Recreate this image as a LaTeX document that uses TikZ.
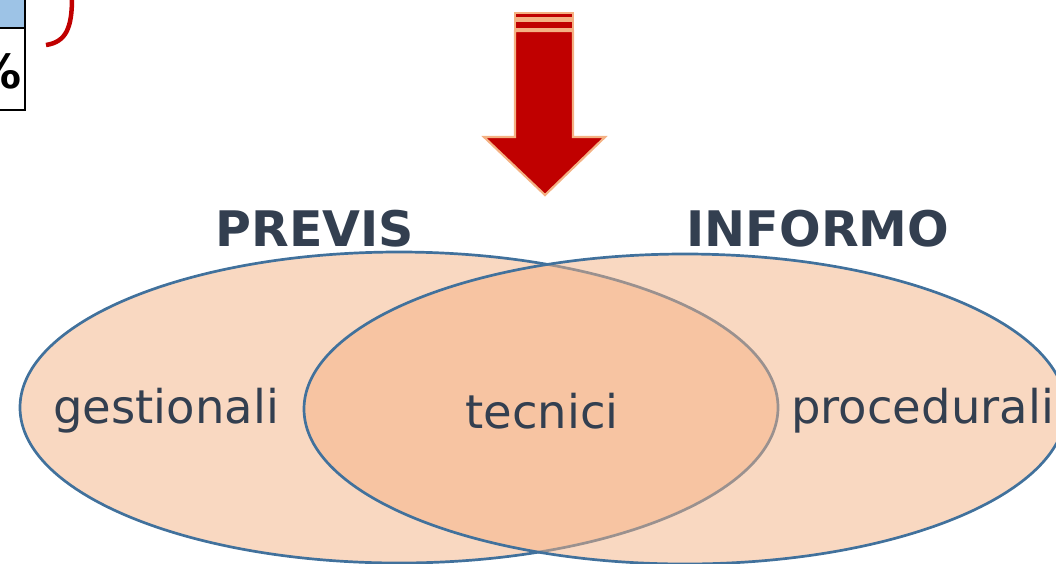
\documentclass[tikz,border=0pt]{standalone}
\usepackage{fontspec}
\setmainfont{DejaVu Sans}
\definecolor{txt}{HTML}{333F50}
\definecolor{peach}{HTML}{F4B183}
\definecolor{ol}{HTML}{41719C}
\definecolor{darkred}{HTML}{C00000}
\definecolor{cellblue}{HTML}{9DC3E6}
\begin{document}
\begin{tikzpicture}[x=1pt,y=-1pt,
  venn/.style={fill=peach, fill opacity=0.5, draw=ol, line width=2.7pt},
  title/.style={text=txt, font=\fontsize{49}{58}\selectfont\bfseries, inner sep=0pt, anchor=base},
  lbl/.style={text=txt, font=\fontsize{46.5}{56}\selectfont, inner sep=0pt},
  arrowpart/.style={fill=darkred, draw=peach, line width=2.2pt, line join=miter},
  cellline/.style={draw=black, line width=2.2pt}]
\useasboundingbox (0,0) rectangle (1056,563);
\clip (0,0) rectangle (1056,563);
% table fragment
\fill[cellblue] (0,0) rectangle (24,28);
\node[font=\fontsize{47}{56}\selectfont\bfseries, inner sep=0pt, anchor=base east] (pct) at (22,88) {\%};
\draw[cellline] (0,28) -- (25,28);
\draw[cellline] (0,110) -- (25,110);
\draw[cellline] (25,-2) -- (25,111);
% red brace end
\draw[darkred, line width=4.5pt] (46,45) .. controls (66,42) and (72,28) .. (72,-2);
% arrow
\draw[arrowpart] (515,13) rectangle (573,18.5);
\draw[arrowpart] (515,21) rectangle (573,29);
\draw[arrowpart] (515,31) -- (573,31) -- (573,137) -- (605,137) -- (545,195) -- (484,137) -- (515,137) -- cycle;
% venn
\path[venn] (399,407.5) ellipse [x radius=379, y radius=155.5];
\path[venn] (685,409) ellipse [x radius=381, y radius=155];
% titles
\node[title] (previs) at (315,246) {PREVIS};
\node[title] (informo) at (818,246) {INFORMO};
% labels
\node[lbl, anchor=base west] (gest) at (53,423) {gestionali};
\node[lbl, anchor=base] (tecn) at (542,428) {tecnici};
\node[lbl, anchor=base west] (proc) at (791,423) {procedurali};
\end{tikzpicture}
\end{document}
